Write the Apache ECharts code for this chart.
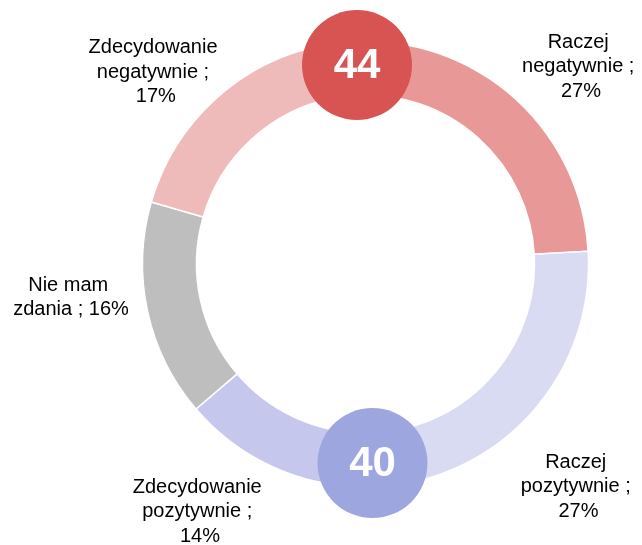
<!DOCTYPE html>
<html>
<head>
<meta charset="utf-8">
<script src="https://cdn.jsdelivr.net/npm/echarts@6/dist/echarts.min.js"></script>
<style>
html,body{margin:0;padding:0;background:#fff;}
#c{width:642px;height:545px;}
</style>
</head>
<body>
<div id="c"></div>
<script>
// Data (clockwise from the top)
const categories = ['Raczej negatywnie', 'Raczej pozytywnie', 'Zdecydowanie pozytywnie', 'Nie mam zdania', 'Zdecydowanie negatywnie'];
const shares = [27.2, 26.2, 13.45, 15.75, 17.4];      // slice sizes read from the ring
const percentLabels = [27, 27, 14, 16, 17];           // printed percentages
const totalLabels = [44, 40];                         // negative total, positive total

// Styles / layout (kept separate from data)
const colors = ['#E89896', '#D8DBF1', '#C5C8EC', '#BEBEBE', '#EFBBBA'];
const labelPos = [[581, 66.5], [578.5, 486.5], [200, 511.5], [71, 297.5], [155.8, 72]];
const badgeColors = ['#D85453', '#9DA6DE'];
const badgePos = [[357, 65], [372.5, 463]];

const chart = echarts.init(document.getElementById('c'), null, {renderer: 'canvas'});

const data = categories.map((n, i) => ({
  name: n, value: shares[i], pct: percentLabels[i],
  itemStyle: {color: colors[i]}
}));

const graphics = [];
totalLabels.forEach((v, i) => {
  graphics.push({
    type: 'circle', z: 100, zlevel: 1,
    shape: {cx: badgePos[i][0], cy: badgePos[i][1], r: 55},
    style: {fill: badgeColors[i]}
  });
  graphics.push({
    type: 'text', z: 101, zlevel: 1,
    x: badgePos[i][0], y: badgePos[i][1] + 1,
    style: {
      text: String(v), fill: '#fff', font: 'bold 42px "Liberation Sans", Arial, sans-serif',
      align: 'center', verticalAlign: 'middle'
    }
  });
});

chart.setOption({
  animation: false,
  backgroundColor: '#fff',
  series: [{
    type: 'pie',
    center: [365.5, 264],
    radius: [169, 223],
    startAngle: 101.2,
    clockwise: true,
    avoidLabelOverlap: false,
    itemStyle: {borderColor: '#fff', borderWidth: 1.5},
    emphasis: {disabled: true},
    label: {
      show: true,
      position: 'outside',
      formatter: p => p.name + ' ; ' + p.data.pct + '%',
      fontFamily: '"Liberation Sans", Arial, sans-serif',
      fontSize: 20,
      lineHeight: 24.5,
      color: '#000',
      width: 136,
      overflow: 'break',
      align: 'center'
    },
    labelLine: {show: false},
    labelLayout: function (params) {
      const p = labelPos[params.dataIndex];
      return {x: p[0], y: p[1], align: 'center', verticalAlign: 'middle', hideOverlap: false};
    },
    data: data
  }],
  graphic: graphics
});
</script>
</body>
</html>
